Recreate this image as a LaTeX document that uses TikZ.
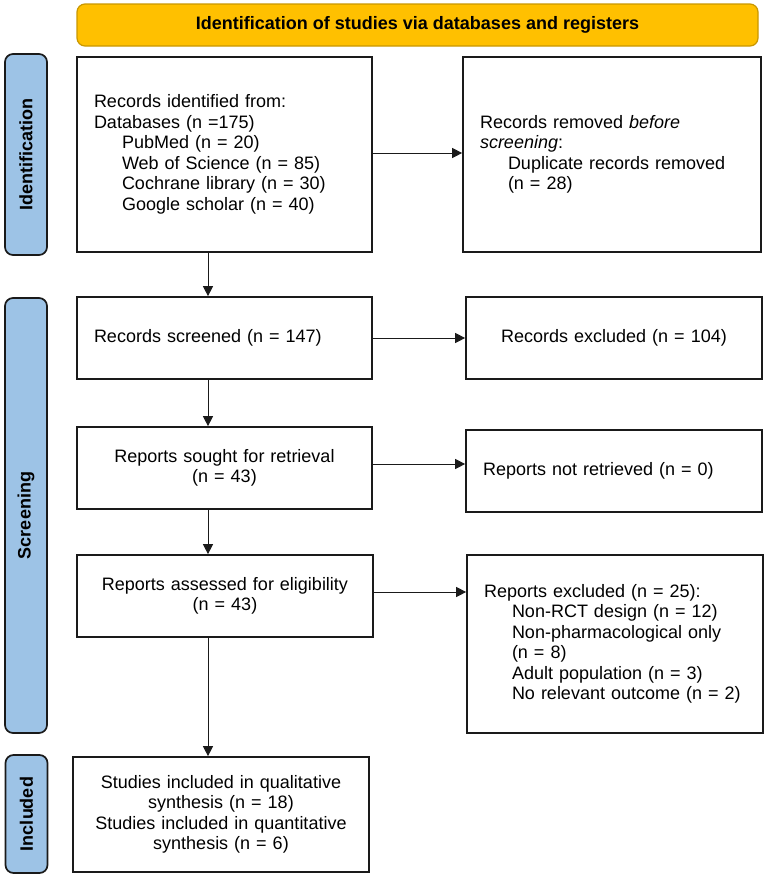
\documentclass[tikz,border=0pt]{standalone}
\usepackage{fontspec}
\setmainfont{Liberation Sans}
\usepackage{xcolor}
\definecolor{ink}{HTML}{1A1A1A}
\definecolor{phaseBlue}{HTML}{9DC3E6}
\definecolor{headGold}{HTML}{FFC000}
\definecolor{headEdge}{HTML}{C99700}
\usetikzlibrary{arrows.meta, positioning}

\begin{document}
\begin{tikzpicture}[
  x=1pt, y=-1pt,
  font=\fontsize{18}{20.5}\selectfont,
  flowbox/.style={rectangle, draw=ink, line width=1.7pt, fill=white,
    inner xsep=17pt, inner ysep=0pt},
  leftbox/.style={flowbox, align=left},
  midbox/.style={flowbox, align=center},
  phase/.style={rectangle, draw=ink, fill=phaseBlue, line width=1.7pt,
    rounded corners=8pt, rotate=90, minimum height=42pt, inner sep=0pt,
    font=\fontsize{18}{20.5}\selectfont\bfseries},
  header/.style={rectangle, draw=headEdge, fill=headGold, line width=1.2pt,
    rounded corners=8pt, minimum width=681pt, minimum height=42pt, inner sep=0pt,
    font=\fontsize{18}{20.5}\selectfont\bfseries},
  arrow/.style={-{Triangle[length=10pt, width=10pt]}, line width=1pt, color=ink},
]
  \useasboundingbox (0,0) rectangle (767,879);

  % banner and phase bars
  \node[header] (head) at (417.5,25) {Identification of studies via databases and registers};
  \node[phase, minimum width=201pt] (ph1) at (26,154.5) {Identification};
  \node[phase, minimum width=435pt] (ph2) at (26,515.5) {Screening};
  \node[phase, minimum width=118pt] (ph3) at (26.5,814) {Included};

  % left column
  \node[leftbox, text width=261pt, minimum height=195pt] (found) at (224.5,154.5)
    {Records identified from:\\
     Databases (n =175)\\
     \hspace*{28pt}PubMed (n = 20)\\
     \hspace*{28pt}Web of Science (n = 85)\\
     \hspace*{28pt}Cochrane library (n = 30)\\
     \hspace*{28pt}Google scholar (n = 40)};
  \node[leftbox, text width=261pt, minimum height=82pt] (screened) at (224.5,338)
    {Records screened (n = 147)};
  \node[midbox, text width=261pt, minimum height=82pt] (sought) at (224.5,468)
    {Reports sought for retrieval\\ (n = 43)};
  \node[midbox, text width=262pt, minimum height=82pt] (assessed) at (225,596)
    {Reports assessed for eligibility\\ (n = 43)};
  \node[midbox, text width=262pt, minimum height=115pt] (included) at (221,814.5)
    {Studies included in qualitative\\ synthesis (n = 18)\\
     Studies included in quantitative\\ synthesis (n = 6)};

  % right column
  \node[leftbox, text width=264pt, minimum height=195pt] (removed) at (612,154.5)
    {Records removed \textit{before}\\
     \textit{screening}:\\
     \hspace*{28pt}Duplicate records removed\\
     \hspace*{28pt}(n = 28)};
  \node[midbox, text width=262pt, minimum height=82pt] (excluded) at (614,338)
    {Records excluded (n = 104)};
  \node[leftbox, text width=262pt, minimum height=82pt] (notret) at (614,471)
    {Reports not retrieved (n = 0)};
  \node[leftbox, text width=262pt, minimum height=178pt] (repexcl) at (615,644)
    {Reports excluded (n = 25):\\
     \hspace*{28pt}Non-RCT design (n = 12)\\
     \hspace*{28pt}Non-pharmacological only\\
     \hspace*{28pt}(n = 8)\\
     \hspace*{28pt}Adult population (n = 3)\\
     \hspace*{28pt}No relevant outcome (n = 2)};

  % connectors
  \coordinate (spine) at (208,0);
  \draw[arrow] (found.south -| spine) -- (screened.north -| spine);
  \draw[arrow] (screened.south -| spine) -- (sought.north -| spine);
  \draw[arrow] (sought.south -| spine) -- (assessed.north -| spine);
  \draw[arrow] (assessed.south -| spine) -- (included.north -| spine);

  \draw[arrow] ([yshift=1.5pt]found.east) -- ([yshift=1.5pt]found.east -| removed.west);
  \draw[arrow] (screened.east) -- (screened.east -| excluded.west);
  \draw[arrow] ([yshift=4pt]sought.east) -- ([yshift=4pt]sought.east -| notret.west);
  \draw[arrow] ([yshift=4pt]assessed.east) -- ([yshift=4pt]assessed.east -| repexcl.west);
\end{tikzpicture}
\end{document}
